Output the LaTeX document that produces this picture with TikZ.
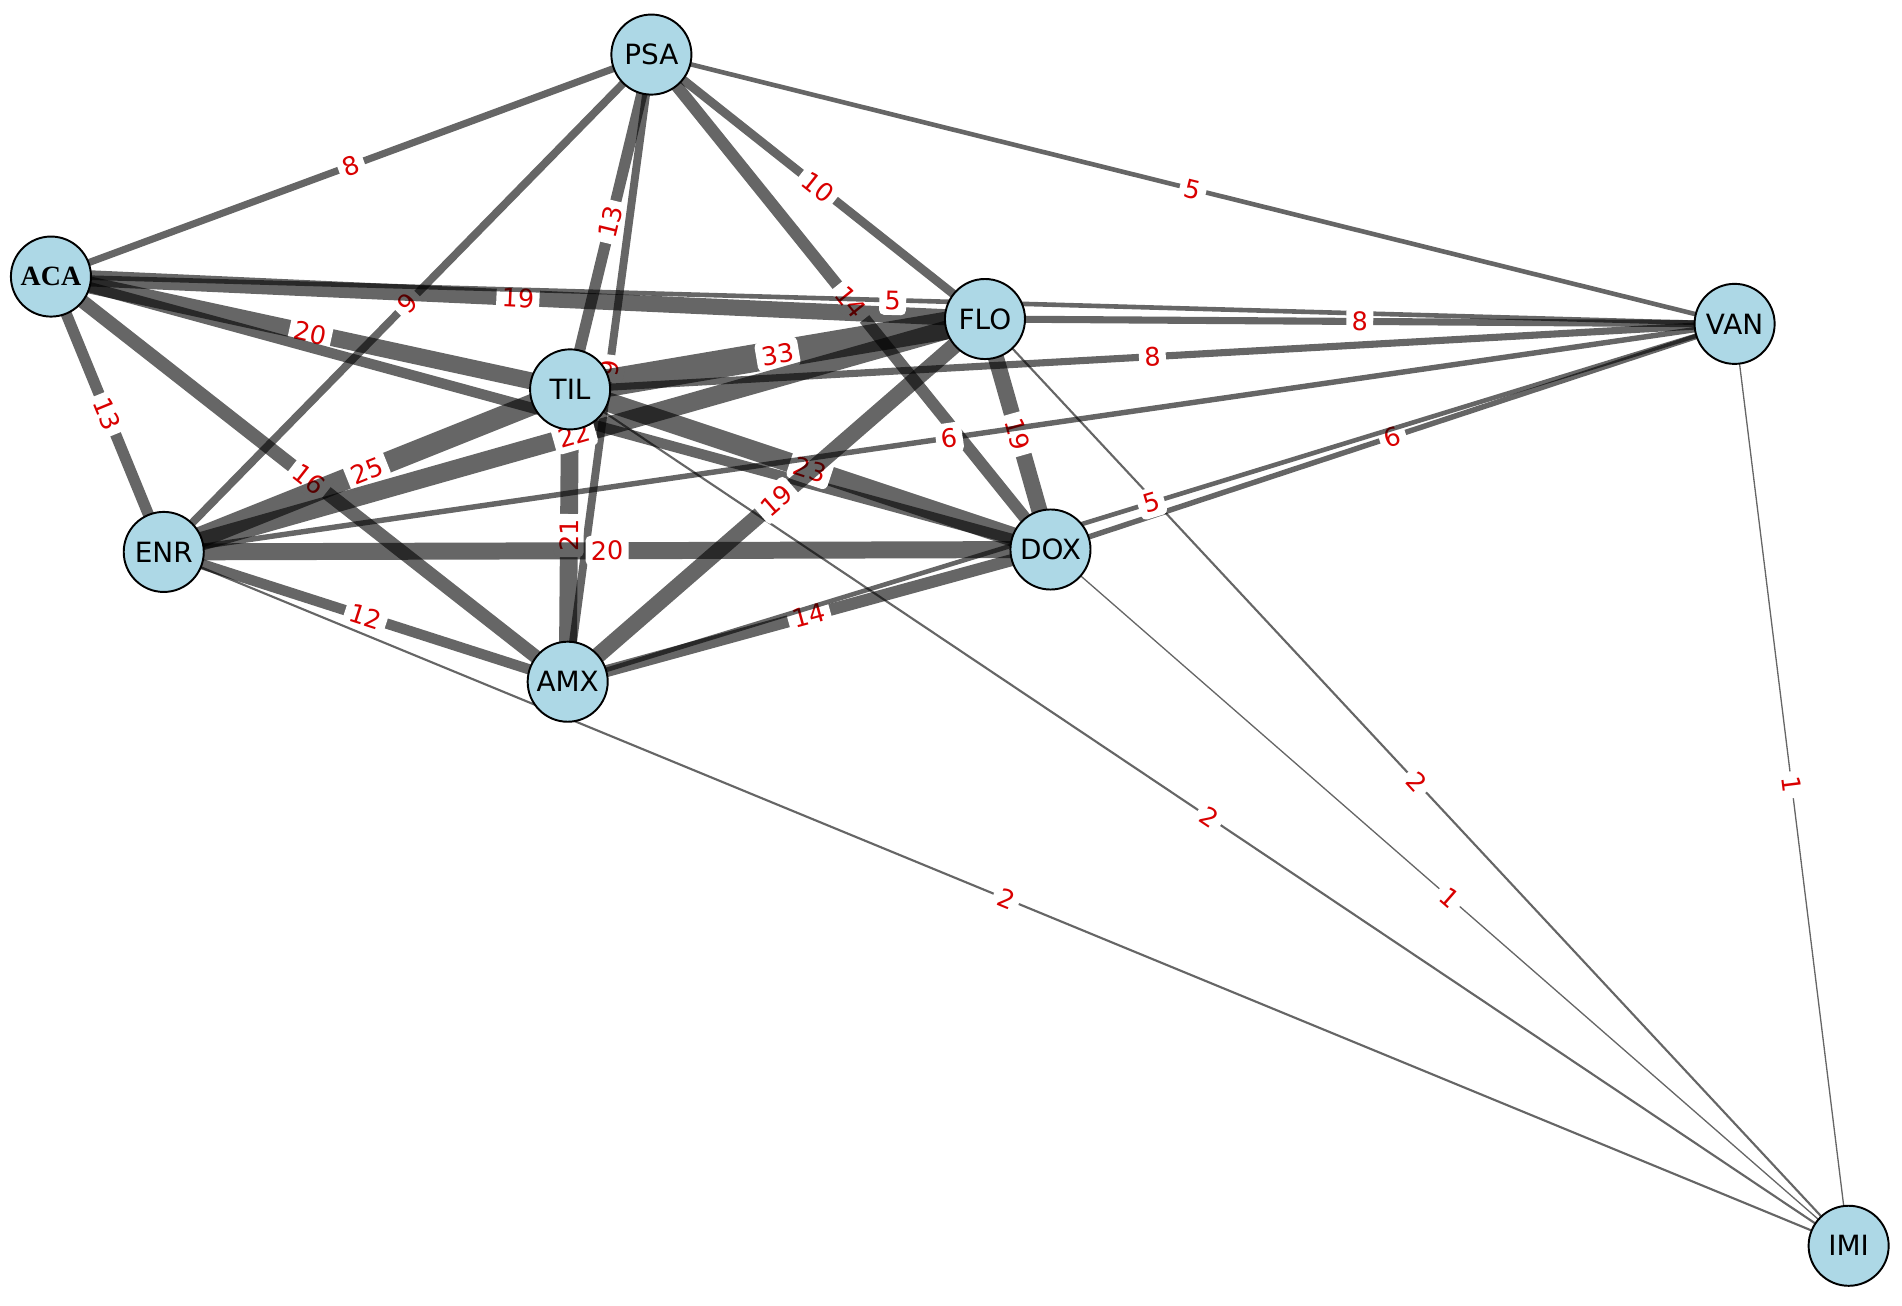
\documentclass[tikz,border=0pt]{standalone}
\usepackage{fontspec}
\setmainfont{DejaVu Sans}
\newfontfamily\timesb{Liberation Serif}
\usetikzlibrary{backgrounds}
\begin{document}
\begin{tikzpicture}[x=0.5pt,y=-0.5pt,
  vx/.style={circle,draw=black,line width=0.8pt,fill=lightblueC,minimum size=33pt,inner sep=0pt,font=\fontsize{11.5}{11.5}\selectfont},
  ed/.style={draw=black,draw opacity=0.6,line width={0.34pt*#1+0.2pt}},
  lb/.style={midway,sloped,fill=white,rounded corners=2pt,inner sep=2.2pt,text=red!85!black,font=\fontsize{10.5}{10.5}\selectfont}]
\definecolor{lightblueC}{HTML}{ADD8E6}
\useasboundingbox (0,0) rectangle (1568,1076);
\node[vx] (PSA) at (537,45) {PSA};
\node[vx] (ACA) at (42,228) {\timesb\bfseries ACA};
\node[vx] (FLO) at (812,263) {FLO};
\node[vx] (VAN) at (1430,267) {VAN};
\node[vx] (TIL) at (470,321) {TIL};
\node[vx] (ENR) at (135,455) {ENR};
\node[vx] (DOX) at (866,453) {DOX};
\node[vx] (AMX) at (468,562) {AMX};
\node[vx] (IMI) at (1524,1027) {IMI};
\begin{scope}[on background layer]
\draw[ed=8] (PSA.center) -- node[lb]{8} (ACA.center);
\draw[ed=5] (PSA.center) -- node[lb]{5} (VAN.center);
\draw[ed=10] (PSA.center) -- node[lb]{10} (FLO.center);
\draw[ed=14] (PSA.center) -- node[lb]{14} (DOX.center);
\draw[ed=13] (PSA.center) -- node[lb]{13} (TIL.center);
\draw[ed=9] (PSA.center) -- node[lb]{9} (AMX.center);
\draw[ed=9] (PSA.center) -- node[lb]{9} (ENR.center);
\draw[ed=19] (ACA.center) -- node[lb]{19} (FLO.center);
\draw[ed=20] (ACA.center) -- node[lb]{20} (TIL.center);
\draw[ed=13] (ACA.center) -- node[lb]{13} (ENR.center);
\draw[ed=16] (ACA.center) -- node[lb]{16} (AMX.center);
\draw[ed=5] (ACA.center) -- node[lb]{5} (VAN.center);
\draw[ed=12] (ACA.center) -- (DOX.center);
\draw[ed=33] (TIL.center) -- node[lb]{33} (FLO.center);
\draw[ed=8] (TIL.center) -- node[lb]{8} (VAN.center);
\draw[ed=23] (TIL.center) -- node[lb]{23} (DOX.center);
\draw[ed=25] (TIL.center) -- node[lb]{25} (ENR.center);
\draw[ed=21] (TIL.center) -- node[lb]{21} (AMX.center);
\draw[ed=2] (TIL.center) -- node[lb]{2} (IMI.center);
\draw[ed=8] (FLO.center) -- node[lb]{8} (VAN.center);
\draw[ed=19] (FLO.center) -- node[lb]{19} (DOX.center);
\draw[ed=19] (FLO.center) -- node[lb]{19} (AMX.center);
\draw[ed=2] (FLO.center) -- node[lb]{2} (IMI.center);
\draw[ed=22] (ENR.center) -- node[lb]{22} (FLO.center);
\draw[ed=20] (ENR.center) -- node[lb]{20} (DOX.center);
\draw[ed=6] (ENR.center) -- node[lb]{6} (VAN.center);
\draw[ed=12] (ENR.center) -- node[lb]{12} (AMX.center);
\draw[ed=2] (ENR.center) -- node[lb]{2} (IMI.center);
\draw[ed=6] (DOX.center) -- node[lb]{6} (VAN.center);
\draw[ed=14] (DOX.center) -- node[lb]{14} (AMX.center);
\draw[ed=1] (DOX.center) -- node[lb]{1} (IMI.center);
\draw[ed=5] (AMX.center) -- node[lb]{5} (VAN.center);
\draw[ed=1] (VAN.center) -- node[lb]{1} (IMI.center);
\end{scope}
\end{tikzpicture}
\end{document}
